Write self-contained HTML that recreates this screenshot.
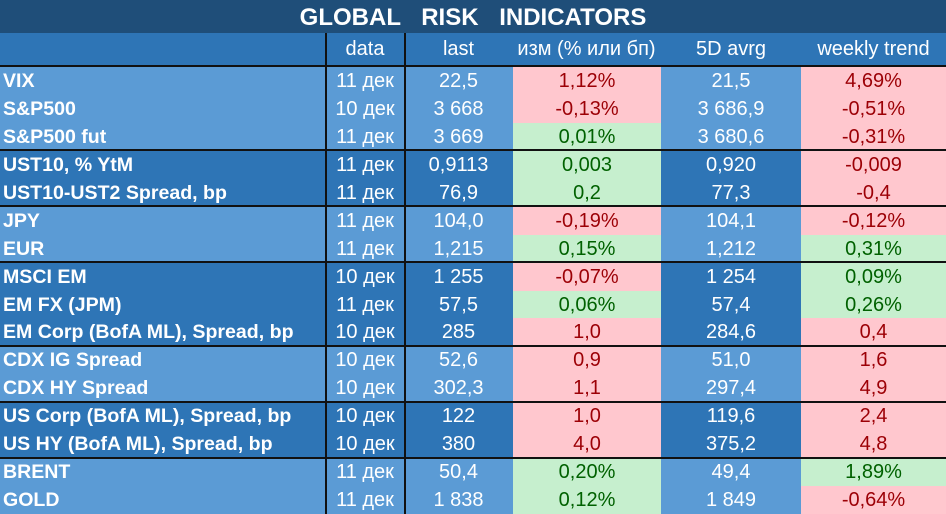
<!DOCTYPE html>
<html><head><meta charset="utf-8"><style>
body{margin:0;width:946px;height:514px;overflow:hidden;background:#5b9bd5;font-family:"Liberation Sans","DejaVu Sans",sans-serif}
#t{position:relative;width:946px;height:514px}
.c{position:absolute;box-sizing:border-box;white-space:nowrap;line-height:28px;font-size:20px;color:#fff;text-align:center;overflow:hidden}
.nm{text-align:left;padding-left:3px;font-weight:bold}
.hl{position:absolute;left:0;width:946px;height:2px;background:#111}
.vl{position:absolute;width:2px;background:#111}
.pos{background:#c6efce;color:#006100}
.neg{background:#ffc7ce;color:#9c0006}
</style></head><body>
<div id="t">
<div class="c" style="left:0;top:0;width:946px;height:33px;background:#1f4e79;font-weight:bold;font-size:24px;line-height:35px;word-spacing:14px">GLOBAL RISK INDICATORS</div>
<div class="c" style="left:0;top:33px;width:946px;height:33px;background:#2e75b6"></div>
<div class="c" style="left:326px;top:35px;width:78px">data</div>
<div class="c" style="left:405px;top:35px;width:107px">last</div>
<div class="c" style="left:512px;top:35px;width:149px">изм (% или бп)</div>
<div class="c" style="left:661px;top:35px;width:140px">5D avrg</div>
<div class="c" style="left:801px;top:35px;width:145px">weekly trend</div>
</div>
<script>
const names=["VIX","S&P500","S&P500 fut","UST10, % YtM","UST10-UST2 Spread, bp","JPY","EUR","MSCI EM","EM FX (JPM)","EM Corp (BofA ML), Spread, bp","CDX IG Spread","CDX HY Spread","US Corp (BofA ML), Spread, bp","US HY (BofA ML), Spread, bp","BRENT","GOLD"];
const dates=["11 дек","10 дек","11 дек","11 дек","11 дек","11 дек","11 дек","10 дек","11 дек","10 дек","10 дек","10 дек","10 дек","10 дек","11 дек","11 дек"];
const last=["22,5","3 668","3 669","0,9113","76,9","104,0","1,215","1 255","57,5","285","52,6","302,3","122","380","50,4","1 838"];
const chg=["1,12%","-0,13%","0,01%","0,003","0,2","-0,19%","0,15%","-0,07%","0,06%","1,0","0,9","1,1","1,0","4,0","0,20%","0,12%"];
const chgSign=[1,-1,-1,-1,-1,1,-1,1,-1,1,1,1,1,1,-1,-1].map(v=>-v);
const avg5=["21,5","3 686,9","3 680,6","0,920","77,3","104,1","1,212","1 254","57,4","284,6","51,0","297,4","119,6","375,2","49,4","1 849"];
const wk=["4,69%","-0,51%","-0,31%","-0,009","-0,4","-0,12%","0,31%","0,09%","0,26%","0,4","1,6","4,9","2,4","4,8","1,89%","-0,64%"];
const wkSign=[-1,-1,-1,-1,-1,-1,1,1,1,-1,-1,-1,-1,-1,1,-1];
const group=[0,0,0,1,1,0,0,1,1,1,0,0,1,1,0,0];
// chgSign: 1 = green(good), -1 = red
const chgGood=[0,0,1,1,1,0,1,0,1,0,0,0,0,0,1,1];
const t=document.getElementById('t');
const top0=67,rh=27.94;
function cell(x,w,y,txt,cls,bg){
  const d=document.createElement('div');
  d.className='c '+cls;
  d.style.left=x+'px';d.style.width=w+'px';d.style.top=y+'px';d.style.height=Math.ceil(rh)+'px';
  if(bg)d.style.background=bg;
  d.textContent=txt;t.appendChild(d);return d;
}
for(let i=0;i<16;i++){
  const y=top0+i*rh;
  const bg=group[i]?'#2e75b6':'#5b9bd5';
  const r=cell(0,946,y,'','',bg);
  
  
  const n=cell(0,326,y,names[i],'nm');
  
  
  const d=cell(326,78,y,dates[i],'');
  
  
  const l=cell(405,107,y,last[i],'');
  
  
  const c=cell(513,148,y,chg[i],chgGood[i]?'pos':'neg');
  
  
  const a=cell(661,140,y,avg5[i],'');
  
  
  const w=cell(801,145,y,wk[i],wkSign[i]>0?'pos':'neg');
  
  
  if(n.scrollWidth>322){n.style.fontSize=(20*319/n.scrollWidth)+'px';}
}
function hline(y){const h=document.createElement('div');h.className='hl';h.style.top=(y-1)+'px';


t.appendChild(h);}
[66,150,206,262,346,402,458].forEach(hline);
[[325],[404]].forEach(([x])=>{const v=document.createElement('div');v.className='vl';v.style.left=x+'px';v.style.top='33px';v.style.height='481px';


t.appendChild(v);});
</script>
</body></html>
